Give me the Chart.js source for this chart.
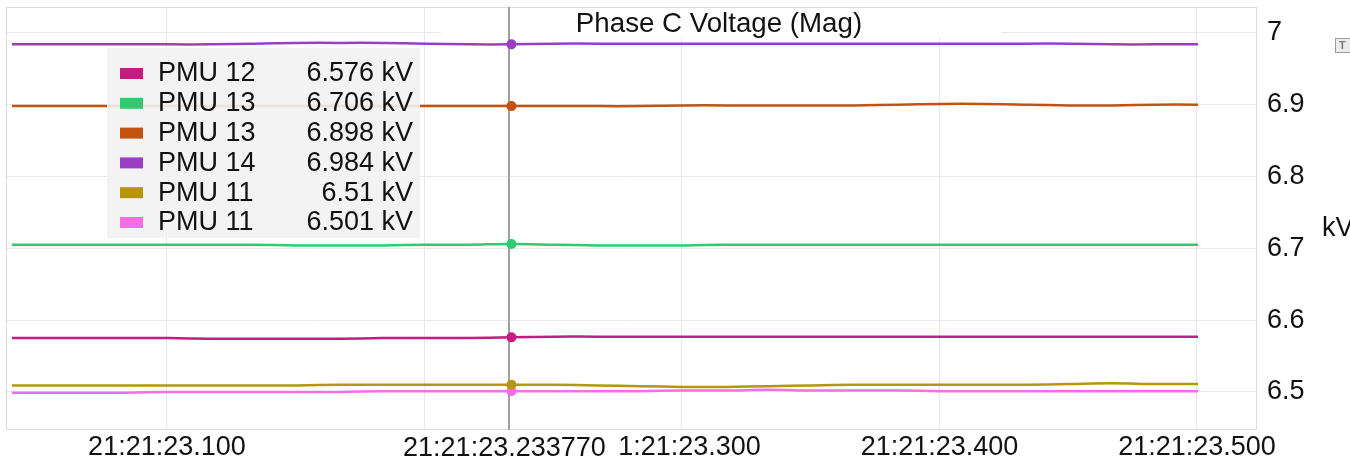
<!DOCTYPE html>
<html>
<head>
<meta charset="utf-8">
<script src="https://cdn.jsdelivr.net/npm/chart.js@4.4.1/dist/chart.umd.min.js"></script>
<style>
  html, body { margin: 0; padding: 0; background: #fff; overflow: hidden; }
  #wrap { width: 1350px; height: 468px; position: relative; }
</style>
</head>
<body>
<div id="wrap"><canvas id="c"></canvas></div>
<script>
// Sample times, milliseconds within second 21:21:23
const timeMs = [39.8, 50.4, 67.1, 83.8, 100.4, 117.1, 133.8, 150.4, 167.1, 183.8,
                200.4, 217.1, 233.77, 250.4, 267.1, 283.8, 300.4, 317.1, 333.8, 350.4,
                367.1, 383.8, 400.4, 417.1, 433.8, 450.4, 467.1, 483.8, 500.4];

const seriesNames  = ['PMU 12', 'PMU 13', 'PMU 13', 'PMU 14', 'PMU 11', 'PMU 11'];
const seriesColors = ['#c81b80', '#2ecc71', '#c4520f', '#9a3fc3', '#b8950f', '#f66ee4'];

// Phase C voltage magnitude, kV
const pmu12a = [6.575, 6.575, 6.575, 6.575, 6.575, 6.574, 6.574, 6.574, 6.574, 6.575,
                6.575, 6.575, 6.576, 6.577, 6.577, 6.577, 6.577, 6.577, 6.577, 6.577,
                6.577, 6.577, 6.577, 6.577, 6.577, 6.577, 6.577, 6.577, 6.577];
const pmu13a = [6.705, 6.705, 6.705, 6.705, 6.705, 6.705, 6.705, 6.704, 6.704, 6.704,
                6.705, 6.705, 6.706, 6.705, 6.704, 6.704, 6.704, 6.705, 6.705, 6.705,
                6.705, 6.705, 6.705, 6.705, 6.705, 6.705, 6.705, 6.705, 6.705];
const pmu13b = [6.898, 6.898, 6.898, 6.898, 6.898, 6.898, 6.898, 6.898, 6.898, 6.898,
                6.898, 6.898, 6.898, 6.898, 6.898, 6.898, 6.899, 6.899, 6.899, 6.899,
                6.899, 6.900, 6.901, 6.901, 6.900, 6.899, 6.899, 6.900, 6.900];
const pmu14a = [6.984, 6.984, 6.984, 6.984, 6.984, 6.984, 6.985, 6.986, 6.986, 6.986,
                6.985, 6.984, 6.984, 6.985, 6.985, 6.985, 6.985, 6.985, 6.985, 6.985,
                6.985, 6.985, 6.985, 6.985, 6.985, 6.985, 6.984, 6.984, 6.984];
const pmu11a = [6.509, 6.509, 6.509, 6.509, 6.509, 6.509, 6.509, 6.509, 6.510, 6.510,
                6.510, 6.510, 6.510, 6.510, 6.509, 6.508, 6.507, 6.507, 6.508, 6.509,
                6.510, 6.510, 6.510, 6.510, 6.510, 6.511, 6.512, 6.511, 6.511];
const pmu11b = [6.499, 6.499, 6.499, 6.499, 6.500, 6.500, 6.500, 6.500, 6.500, 6.501,
                6.501, 6.501, 6.501, 6.501, 6.501, 6.501, 6.502, 6.502, 6.503, 6.502,
                6.502, 6.502, 6.501, 6.501, 6.501, 6.501, 6.501, 6.501, 6.501];

const seriesValues = [pmu12a, pmu13a, pmu13b, pmu14a, pmu11a, pmu11b];

const xTickValues = [100, 200, 300, 400, 500];
const yTickValues = [6.5, 6.6, 6.7, 6.8, 6.9, 7.0];
const xRange = [37.5, 523.3];
const yRange = [6.447, 7.036];

const cursorIndex = 12;
const cursorLabel = '21:21:23.233770';
const chartTitle = 'Phase C Voltage (Mag)';
const unitLabel = 'kV';

const FONT = '"Liberation Sans", Arial, Helvetica, sans-serif';
const FS = 27;

Chart.defaults.font.family = FONT;
Chart.defaults.font.size = FS;
Chart.defaults.color = '#111';

const datasets = seriesValues.map((vals, i) => ({
  label: seriesNames[i],
  data: vals.map((v, k) => ({ x: timeMs[k], y: v })),
  borderColor: seriesColors[i],
  backgroundColor: seriesColors[i],
  borderWidth: 2.5,
  tension: 0.35,
  fill: false,
  pointRadius: ctx => ctx.dataIndex === cursorIndex ? 5 : 0,
  pointHoverRadius: 0,
  pointBorderWidth: 0
}));

// Plot frame, title strip and cursor line behind the traces
const underlay = {
  id: 'underlay',
  beforeDatasetsDraw(chart) {
    const { ctx, chartArea: a, scales } = chart;
    ctx.save();
    ctx.strokeStyle = '#dcdcdc';
    ctx.lineWidth = 1;
    ctx.strokeRect(a.left + 0.5, a.top + 0.5, a.right - a.left - 1, a.bottom - a.top - 1);

    // title on a white strip
    ctx.fillStyle = '#fff';
    ctx.fillRect(a.left + 435, a.top + 1, 560, 29);
    ctx.font = '27.7px ' + FONT;
    ctx.fillStyle = '#111';
    ctx.textAlign = 'center';
    ctx.textBaseline = 'middle';
    ctx.fillText(chartTitle, a.left + 713, a.top + 17);

    // cursor line
    const cx = Math.round(scales.x.getPixelForValue(timeMs[cursorIndex])) - 2;
    ctx.strokeStyle = '#a0a0a0';
    ctx.lineWidth = 2;
    ctx.beginPath();
    ctx.moveTo(cx, a.top);
    ctx.lineTo(cx, a.bottom);
    ctx.stroke();
    ctx.restore();
  }
};

// Value legend, cursor time label, unit label
const overlay = {
  id: 'overlay',
  afterDatasetsDraw(chart) {
    const { ctx, chartArea: a, scales } = chart;
    ctx.save();
    ctx.font = FS + 'px ' + FONT;

    // legend panel
    const lx = a.left + 101, ly = a.top + 41, lw = 313, lh = 190;
    ctx.fillStyle = 'rgba(242,242,242,0.9)';
    ctx.fillRect(lx, ly, lw, lh);
    ctx.textBaseline = 'middle';
    seriesNames.forEach((name, i) => {
      const cy = ly + 25 + i * 29.8;
      ctx.fillStyle = seriesColors[i];
      ctx.fillRect(lx + 13, cy - 5, 23, 11);
      ctx.fillStyle = '#111';
      ctx.textAlign = 'left';
      ctx.fillText(name, lx + 51, cy + 1);
      ctx.textAlign = 'right';
      ctx.fillText(String(seriesValues[i][cursorIndex]) + ' ' + unitLabel, lx + 306, cy + 1);
    });

    // cursor time label under the axis
    const cx = scales.x.getPixelForValue(timeMs[cursorIndex]) - 2;
    const tw = ctx.measureText(cursorLabel).width;
    ctx.fillStyle = '#fff';
    ctx.fillRect(cx - tw / 2 - 14, a.bottom + 1, tw + 21, 37);
    ctx.fillStyle = '#111';
    ctx.textAlign = 'center';
    ctx.fillText(cursorLabel, cx - 5, a.bottom + 19);

    // unit label
    ctx.textAlign = 'left';
    ctx.fillText(unitLabel, a.right + 65, (a.top + a.bottom) / 2 + 10);

    // small toolbar icon
    ctx.fillStyle = '#ececec';
    ctx.fillRect(1335, 38, 16, 15);
    ctx.strokeStyle = '#9a9a9a';
    ctx.lineWidth = 1;
    ctx.strokeRect(1335.5, 38.5, 16, 14);
    ctx.font = 'bold 11px ' + FONT;
    ctx.fillStyle = '#777';
    ctx.fillText('T', 1339, 46);
    ctx.restore();
  }
};

new Chart(document.getElementById('c'), {
  type: 'line',
  data: { datasets },
  options: {
    responsive: true,
    maintainAspectRatio: false,
    animation: false,
    devicePixelRatio: 1,
    layout: { padding: { left: 6, top: 7, right: 0, bottom: 0 } },
    plugins: { legend: { display: false }, tooltip: { enabled: false }, title: { display: false } },
    events: [],
    scales: {
      x: {
        type: 'linear',
        min: xRange[0],
        max: xRange[1],
        afterBuildTicks: s => { s.ticks = xTickValues.map(v => ({ value: v })); },
        afterFit: s => { s.height = 38; s.paddingLeft = 0; s.paddingRight = 0; },
        grid: { color: '#e8e8e8', drawTicks: false },
        border: { display: false },
        ticks: {
          padding: 1,
          maxRotation: 0,
          autoSkip: false,
          color: '#111',
          callback: v => Math.abs(v - timeMs[cursorIndex]) < 50 ? '' : '21:21:23.' + String(v).padStart(3, '0')
        }
      },
      y: {
        position: 'right',
        min: yRange[0],
        max: yRange[1],
        afterBuildTicks: s => { s.ticks = yTickValues.map(v => ({ value: v })); },
        afterFit: s => { s.width = 93; s.paddingTop = 0; s.paddingBottom = 0; },
        grid: { color: '#e8e8e8', drawTicks: false },
        border: { display: false },
        ticks: {
          padding: 10,
          color: '#111',
          callback: v => String(+v.toFixed(1))
        }
      }
    }
  },
  plugins: [underlay, overlay]
});
</script>
</body>
</html>
